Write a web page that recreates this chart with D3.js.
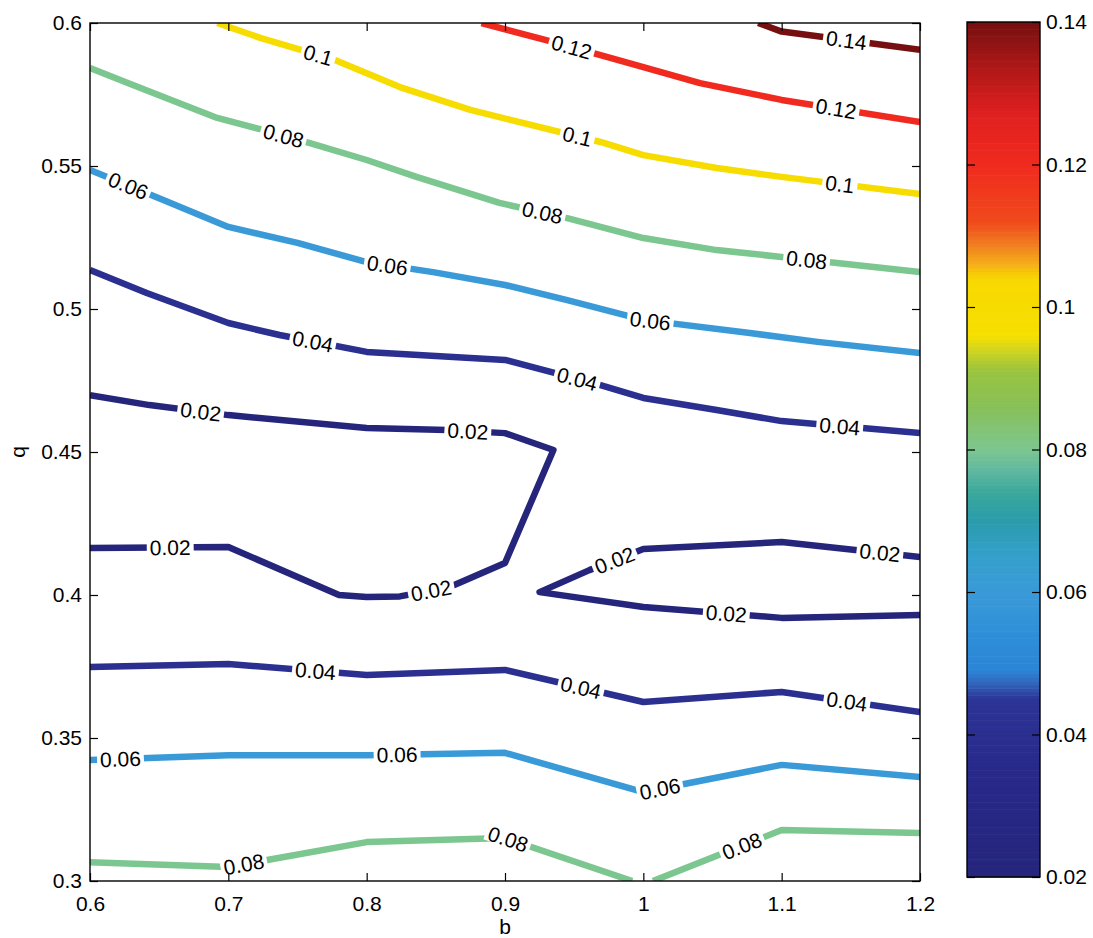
<!DOCTYPE html>
<html>
<head>
<meta charset="utf-8">
<script src="https://cdn.jsdelivr.net/npm/d3@7"></script>
<style>
  html, body { margin: 0; padding: 0; background: #fff; }
  svg { display: block; }
  text { font-family: "Liberation Sans", Arial, Helvetica, sans-serif; fill: #000; }
</style>
</head>
<body>
<svg id="chart" width="1093" height="938"></svg>
<script>
// ---- data -------------------------------------------------------------
const levels = [0.02, 0.04, 0.06, 0.08, 0.1, 0.12, 0.14];
const bTicks = [0.6, 0.7, 0.8, 0.9, 1.0, 1.1, 1.2];
const bTickLabels = ["0.6", "0.7", "0.8", "0.9", "1", "1.1", "1.2"];
const qTicks = [0.3, 0.35, 0.4, 0.45, 0.5, 0.55, 0.6];
const qTickLabels = ["0.3", "0.35", "0.4", "0.45", "0.5", "0.55", "0.6"];
const cbTicks = [0.02, 0.04, 0.06, 0.08, 0.1, 0.12, 0.14];
const cbTickLabels = ["0.02", "0.04", "0.06", "0.08", "0.1", "0.12", "0.14"];

// colormap (value -> colour) used by the colorbar and the contour lines
const cmapValues = [0.020, 0.035, 0.045, 0.047, 0.049, 0.054, 0.060, 0.065, 0.070, 0.074,
                    0.077, 0.080, 0.086, 0.091, 0.094, 0.096, 0.104, 0.106, 0.109, 0.112,
                    0.120, 0.127, 0.133, 0.140];
const cmapColors = ["#25257c", "#28298a", "#2c3496", "#3060b8", "#2c84d6", "#2e8ed8", "#3a9ad8",
                    "#35a0cc", "#2a9cac", "#3aa89a", "#60b8a0", "#7cc690", "#88c058", "#98c440",
                    "#d0d420", "#f6e000", "#f8d800", "#f6b018", "#f07a20", "#f04a1c", "#f02a1e",
                    "#e02020", "#b41818", "#761010"];

// contour polylines as [b, q] pairs
const contour014 = [[1.083, 0.600], [1.100, 0.597], [1.200, 0.5906]];
const contour012 = [[0.883, 0.600], [0.940, 0.5927], [1.000, 0.5846], [1.041, 0.579], [1.100, 0.5731], [1.200, 0.5654]];
const contour010 = [[0.692, 0.600], [0.723, 0.5948], [0.777, 0.5871], [0.824, 0.5776], [0.875, 0.5696], [0.904, 0.5661],
                    [0.969, 0.5584], [1.000, 0.5538], [1.053, 0.5493], [1.100, 0.5462], [1.200, 0.5402]];
const contour008a = [[0.600, 0.5843], [0.631, 0.5783], [0.692, 0.5668], [0.725, 0.5626], [0.759, 0.558], [0.800, 0.5521],
                     [0.836, 0.5462], [0.873, 0.5406], [0.896, 0.5371], [0.945, 0.5318], [1.000, 0.5248], [1.053, 0.5206],
                     [1.100, 0.5182], [1.200, 0.5129]];
const contour006a = [[0.600, 0.5486], [0.653, 0.5381], [0.700, 0.5287], [0.750, 0.5231], [0.800, 0.5164], [0.848, 0.5129],
                     [0.900, 0.5084], [0.945, 0.5031], [1.000, 0.4962], [1.077, 0.4916], [1.126, 0.4885], [1.200, 0.4846]];
const contour004a = [[0.600, 0.5136], [0.641, 0.5056], [0.700, 0.4951], [0.737, 0.4909], [0.800, 0.485], [0.900, 0.4822],
                     [0.933, 0.478], [0.969, 0.4734], [1.000, 0.4689], [1.053, 0.4647], [1.100, 0.4608], [1.200, 0.4566]];
const contour002a = [[0.600, 0.4699], [0.643, 0.4664], [0.700, 0.4629], [0.800, 0.4584], [0.858, 0.4577], [0.900, 0.4566],
                     [0.935, 0.4507], [0.900, 0.4112], [0.860, 0.4028], [0.824, 0.3995], [0.800, 0.3993], [0.780, 0.400],
                     [0.700, 0.4168], [0.600, 0.4164]];
const contour002b = [[1.200, 0.4133], [1.100, 0.4185], [1.000, 0.4161], [0.961, 0.4087], [0.925, 0.401],
                     [1.000, 0.3958], [1.100, 0.392], [1.200, 0.393]];
const contour004b = [[0.600, 0.3748], [0.700, 0.3759], [0.800, 0.372], [0.900, 0.3738], [1.000, 0.3626], [1.100, 0.3661], [1.200, 0.3591]];
const contour006b = [[0.600, 0.3423], [0.700, 0.344], [0.800, 0.344], [0.900, 0.3448], [1.000, 0.3311], [1.100, 0.3406], [1.200, 0.3364]];
const contour008b = [[0.600, 0.3066], [0.700, 0.3049], [0.800, 0.3136], [0.900, 0.315], [0.992, 0.300]];
const contour008c = [[1.007, 0.300], [1.100, 0.3178], [1.200, 0.3168]];

// inline label anchors [b, q] for each contour piece
const labels014 = [[1.147, 0.5948]];
const labels012 = [[0.948, 0.5913], [1.139, 0.5689]];
const labels010 = [[0.765, 0.5888], [0.952, 0.5598], [1.142, 0.5434]];
const labels008a = [[0.740, 0.5608], [0.927, 0.5336], [1.118, 0.5171]];
const labels006a = [[0.627, 0.5423], [0.815, 0.5154], [1.005, 0.4958]];
const labels004a = [[0.761, 0.4885], [0.952, 0.4752], [1.142, 0.4591]];
const labels002a = [[0.680, 0.464], [0.873, 0.4559], [0.847, 0.4007], [0.658, 0.4161]];
const labels002b = [[0.980, 0.4112], [1.060, 0.3937], [1.171, 0.4147]];
const labels004b = [[0.763, 0.3734], [0.955, 0.3678], [1.147, 0.3622]];
const labels006b = [[0.622, 0.343], [0.822, 0.344], [1.012, 0.3322]];
const labels008b = [[0.711, 0.3063], [0.902, 0.3143]];
const labels008c = [[1.071, 0.3126]];

const contours = [
  { level: 0.02, points: contour002a, labels: labels002a },
  { level: 0.02, points: contour002b, labels: labels002b },
  { level: 0.04, points: contour004a, labels: labels004a },
  { level: 0.04, points: contour004b, labels: labels004b },
  { level: 0.06, points: contour006a, labels: labels006a },
  { level: 0.06, points: contour006b, labels: labels006b },
  { level: 0.08, points: contour008a, labels: labels008a },
  { level: 0.08, points: contour008b, labels: labels008b },
  { level: 0.08, points: contour008c, labels: labels008c },
  { level: 0.1,  points: contour010,  labels: labels010 },
  { level: 0.12, points: contour012,  labels: labels012 },
  { level: 0.14, points: contour014,  labels: labels014 }
];

// ---- layout ------------------------------------------------------------
const svg = d3.select("#chart");
const plot = { left: 90, right: 920, top: 23, bottom: 881 };
const cb = { left: 967, right: 1040, top: 22, bottom: 877 };
const fontSize = 21;
const tickLen = 8;

const x = d3.scaleLinear().domain([0.6, 1.2]).range([plot.left, plot.right]);
const y = d3.scaleLinear().domain([0.3, 0.6]).range([plot.bottom, plot.top]);
const cy = d3.scaleLinear().domain([0.02, 0.14]).range([cb.bottom, cb.top]);
const color = d3.scaleLinear().domain(cmapValues).range(cmapColors).interpolate(d3.interpolateRgb);

svg.append("rect").attr("width", 1093).attr("height", 938).attr("fill", "#fff");

svg.append("defs").append("clipPath").attr("id", "plot-clip")
  .append("rect")
  .attr("x", plot.left).attr("y", plot.top)
  .attr("width", plot.right - plot.left).attr("height", plot.bottom - plot.top);

// ---- contour lines -----------------------------------------------------
const line = d3.line().x(d => x(d[0])).y(d => y(d[1]));
const lineG = svg.append("g").attr("clip-path", "url(#plot-clip)");
lineG.selectAll("path.contour")
  .data(contours)
  .join("path")
  .attr("class", "contour")
  .attr("d", d => line(d.points))
  .attr("fill", "none")
  .attr("stroke", d => color(d.level))
  .attr("stroke-width", 6.5)
  .attr("stroke-linejoin", "round")
  .attr("stroke-linecap", "butt");

// ---- inline labels -----------------------------------------------------
function anchorOnLine(points, lb) {
  const P = points.map(p => [x(p[0]), y(p[1])]);
  const L = [x(lb[0]), y(lb[1])];
  let best = null;
  for (let i = 0; i < P.length - 1; i++) {
    const a = P[i], b = P[i + 1];
    const dx = b[0] - a[0], dy = b[1] - a[1];
    const len2 = dx * dx + dy * dy;
    let t = ((L[0] - a[0]) * dx + (L[1] - a[1]) * dy) / len2;
    t = Math.max(0, Math.min(1, t));
    const px = a[0] + t * dx, py = a[1] + t * dy;
    const d = (px - L[0]) ** 2 + (py - L[1]) ** 2;
    if (!best || d < best.d) best = { d, px, py, ang: Math.atan2(dy, dx) * 180 / Math.PI };
  }
  let ang = best.ang;
  if (ang > 90) ang -= 180;
  if (ang < -90) ang += 180;
  return { px: best.px, py: best.py, ang };
}

const labelData = [];
contours.forEach(c => c.labels.forEach(lb => {
  const a = anchorOnLine(c.points, lb);
  labelData.push({ level: c.level, ...a });
}));

const fmt = d3.format("~g");
const labG = svg.append("g").attr("clip-path", "url(#plot-clip)");
const lg = labG.selectAll("g.clabel")
  .data(labelData)
  .join("g")
  .attr("class", "clabel")
  .attr("transform", d => `translate(${d.px},${d.py}) rotate(${d.ang})`);
lg.append("rect").attr("fill", "#fff");
const lt = lg.append("text")
  .attr("text-anchor", "middle")
  .attr("dy", "0.36em")
  .attr("font-size", fontSize)
  .text(d => fmt(d.level));
lt.each(function () {
  const w = this.getComputedTextLength();
  d3.select(this.parentNode).select("rect")
    .attr("x", -w / 2 - 3).attr("y", -8)
    .attr("width", w + 6).attr("height", 16);
});

// ---- axes --------------------------------------------------------------
function styleAxis(g) {
  g.select(".domain").remove();
  g.selectAll(".tick line").attr("stroke", "#000").attr("stroke-width", 1.2);
  g.selectAll(".tick text").attr("font-size", fontSize).attr("fill", "#000")
    .attr("font-family", '"Liberation Sans", Arial, Helvetica, sans-serif');
}

svg.append("g").attr("transform", `translate(0,${plot.bottom})`)
  .call(d3.axisBottom(x).tickValues(bTicks).tickFormat((d, i) => bTickLabels[i])
    .tickSizeInner(-tickLen).tickSizeOuter(0).tickPadding(15))
  .call(styleAxis);
svg.append("g").attr("transform", `translate(0,${plot.top})`)
  .call(d3.axisTop(x).tickValues(bTicks).tickFormat("").tickSizeInner(-tickLen).tickSizeOuter(0))
  .call(styleAxis);
svg.append("g").attr("transform", `translate(${plot.left},0)`)
  .call(d3.axisLeft(y).tickValues(qTicks).tickFormat((d, i) => qTickLabels[i])
    .tickSizeInner(-tickLen).tickSizeOuter(0).tickPadding(8))
  .call(styleAxis);
svg.append("g").attr("transform", `translate(${plot.right},0)`)
  .call(d3.axisRight(y).tickValues(qTicks).tickFormat("").tickSizeInner(-tickLen).tickSizeOuter(0))
  .call(styleAxis);

svg.append("rect")
  .attr("x", plot.left).attr("y", plot.top)
  .attr("width", plot.right - plot.left).attr("height", plot.bottom - plot.top)
  .attr("fill", "none").attr("stroke", "#000").attr("stroke-width", 1.4);

svg.append("text")
  .attr("x", (plot.left + plot.right) / 2).attr("y", 934)
  .attr("text-anchor", "middle").attr("font-size", fontSize)
  .text("b");
svg.append("text")
  .attr("transform", `translate(25,${(plot.top + plot.bottom) / 2}) rotate(-90)`)
  .attr("text-anchor", "middle").attr("font-size", fontSize)
  .text("q");

// ---- colorbar ----------------------------------------------------------
const nStrips = 240;
const step = (0.14 - 0.02) / nStrips;
svg.append("g").selectAll("rect")
  .data(d3.range(nStrips).map(i => 0.02 + i * step))
  .join("rect")
  .attr("x", cb.left).attr("width", cb.right - cb.left)
  .attr("y", d => cy(d + step))
  .attr("height", d => cy(d) - cy(d + step) + 0.6)
  .attr("fill", d => color(d + step / 2));

svg.append("g").attr("transform", `translate(${cb.right},0)`)
  .call(d3.axisRight(cy).tickValues(cbTicks).tickFormat((d, i) => cbTickLabels[i])
    .tickSizeInner(-tickLen).tickSizeOuter(0).tickPadding(6))
  .call(styleAxis);
svg.append("g").attr("transform", `translate(${cb.left},0)`)
  .call(d3.axisLeft(cy).tickValues(cbTicks).tickFormat("").tickSizeInner(-tickLen).tickSizeOuter(0))
  .call(styleAxis);

svg.append("rect")
  .attr("x", cb.left).attr("y", cb.top)
  .attr("width", cb.right - cb.left).attr("height", cb.bottom - cb.top)
  .attr("fill", "none").attr("stroke", "#000").attr("stroke-width", 1.4);
</script>
</body>
</html>
